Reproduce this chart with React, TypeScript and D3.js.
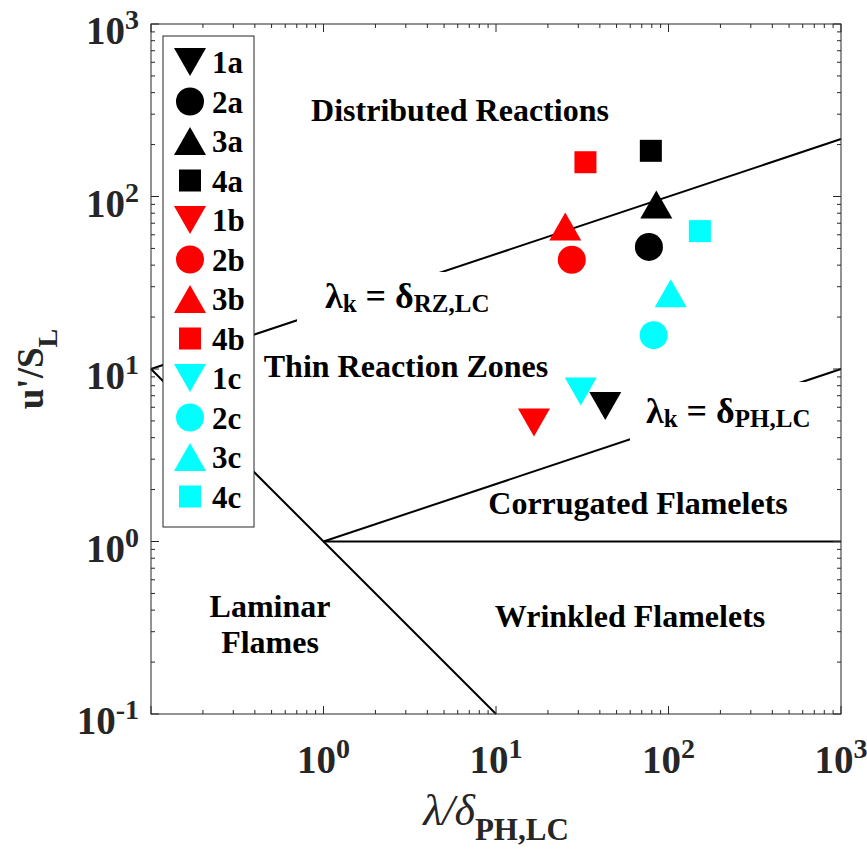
import React from "react";
import * as d3 from "d3";

// cases
const caseNames = ["1a", "2a", "3a", "4a", "1b", "2b", "3b", "4b", "1c", "2c", "3c", "4c"];
const lengthRatio = [43, 77, 85, 79, 16.6, 27.5, 25.2, 33, 31, 82, 103, 152];
const velocityRatio = [6.1, 51, 90, 184, 4.9, 43, 67, 158, 7.4, 15.7, 27.5, 63];

// regime boundaries [x, y]
const ka100Line = [[0.1, 10], [1000, 215.4]];
const ka1Line = [[1, 1], [1000, 10]];
const unityLine = [[1, 1], [1000, 1]];
const re1Line = [[0.1, 10], [10, 0.1]];

const xTickExp = [0, 1, 2, 3];
const yTickExp = [-1, 0, 1, 2, 3];

const shapeByNumber: Record<string, string> = { "1": "down", "2": "circle", "3": "up", "4": "square" };
const colorByGroup: Record<string, string> = { a: "#000000", b: "#ff0000", c: "#00ffff" };

const font = "'Liberation Serif', 'Times New Roman', serif";
const axisColor = "#262626";

const x = d3.scaleLog().domain([0.1, 1000]).range([151, 841]);
const y = d3.scaleLog().domain([0.1, 1000]).range([714, 24]);

const isDecade = (v: number) => Math.abs(Math.log10(v) - Math.round(Math.log10(v))) < 1e-9;

const Marker = ({ name, cx, cy }: { name: string; cx: number; cy: number }) => {
  const shape = shapeByNumber[name[0]];
  const fill = colorByGroup[name[1]];
  if (shape === "circle") return <circle cx={cx} cy={cy} r={14} fill={fill} />;
  if (shape === "square") return <rect x={cx - 11} y={cy - 11} width={22} height={22} fill={fill} />;
  const w = 16, h = 14;
  const d =
    shape === "down"
      ? `M${cx - w},${cy - h}L${cx + w},${cy - h}L${cx},${cy + h}Z`
      : `M${cx - w},${cy + h}L${cx + w},${cy + h}L${cx},${cy - h}Z`;
  return <path d={d} fill={fill} />;
};

const line = d3
  .line<number[]>()
  .x((d) => x(d[0]))
  .y((d) => y(d[1]));

export default function App() {
  const ticks = x.ticks();
  const yTicks = y.ticks();

  return (
    <svg width={867} height={849} style={{ display: "block", position: "absolute", left: 0, top: 0 }} fontFamily={font}>
      <rect width={867} height={849} fill="white" />

      {/* boundaries */}
      {[ka100Line, ka1Line, unityLine, re1Line].map((l, i) => (
        <path key={i} d={line(l) as string} fill="none" stroke="black" strokeWidth={2} />
      ))}

      {/* labelled boundaries */}
      <rect x={297} y={272} width={200} height={53} fill="white" />
      <text x={325} y={308} fontWeight="bold" fontSize={36}>
        λ<tspan fontSize={25} dy={4}>k</tspan>
        <tspan dy={-4}> = δ</tspan>
        <tspan fontSize={25} dy={4}>RZ,LC</tspan>
      </text>
      <rect x={630} y={382} width={185} height={60} fill="white" />
      <text x={646} y={423} fontWeight="bold" fontSize={36}>
        λ<tspan fontSize={25} dy={4}>k</tspan>
        <tspan dy={-4}> = δ</tspan>
        <tspan fontSize={25} dy={4}>PH,LC</tspan>
      </text>

      {/* regime names */}
      <g fontWeight="bold" fontSize={32} textAnchor="middle">
        <text x={460} y={121}>Distributed Reactions</text>
        <text x={406} y={377}>Thin Reaction Zones</text>
        <text x={638} y={514}>Corrugated Flamelets</text>
        <text x={630} y={627}>Wrinkled Flamelets</text>
        <text x={270} y={617}>Laminar</text>
        <text x={270} y={653}>Flames</text>
      </g>

      {/* data */}
      {caseNames.map((n, i) => (
        <Marker key={n} name={n} cx={x(lengthRatio[i])} cy={y(velocityRatio[i])} />
      ))}

      {/* frame and ticks */}
      <rect x={151} y={24} width={690} height={690} fill="none" stroke={axisColor} strokeWidth={1} />
      <g stroke={axisColor} strokeWidth={1}>
        {ticks.map((t, i) => {
          const len = isDecade(t) ? 8 : 4;
          const px = x(t);
          return (
            <g key={"x" + i}>
              <line x1={px} x2={px} y1={714} y2={714 - len} />
              <line x1={px} x2={px} y1={24} y2={24 + len} />
            </g>
          );
        })}
        {yTicks.map((t, i) => {
          const len = isDecade(t) ? 8 : 4;
          const py = y(t);
          return (
            <g key={"y" + i}>
              <line x1={151} x2={151 + len} y1={py} y2={py} />
              <line x1={841} x2={841 - len} y1={py} y2={py} />
            </g>
          );
        })}
      </g>

      {/* tick labels */}
      <g fontWeight="bold" fontSize={39} fill={axisColor}>
        {yTickExp.map((e) => (
          <text key={"yl" + e} x={139} y={y(Math.pow(10, e)) + 20} textAnchor="end">
            10<tspan fontSize={28} dy={-15}>{e}</tspan>
          </text>
        ))}
        {xTickExp.map((e) => (
          <text key={"xl" + e} x={x(Math.pow(10, e))} y={773} textAnchor="middle">
            10<tspan fontSize={28} dy={-15}>{e}</tspan>
          </text>
        ))}
      </g>

      {/* axis titles */}
      <text x={496} y={825} textAnchor="middle" fill={axisColor}>
        <tspan fontStyle="italic" fontSize={44}>λ/δ</tspan>
        <tspan fontWeight="bold" fontSize={31} dy={15}>PH,LC</tspan>
      </text>
      <text transform="translate(43,369) rotate(-90)" textAnchor="middle" fontWeight="bold" fontSize={37} fill={axisColor}>
        u'/S<tspan fontSize={28} dy={14}>L</tspan>
      </text>

      {/* legend */}
      <rect x={163} y={36} width={91} height={491} fill="white" stroke={axisColor} strokeWidth={1} />
      {caseNames.map((n, i) => {
        const cy = 62 + i * 39.5;
        return (
          <g key={"lg" + n}>
            <Marker name={n} cx={190} cy={cy} />
            <text x={212} y={cy + 11} fontWeight="bold" fontSize={31}>
              {n}
            </text>
          </g>
        );
      })}
    </svg>
  );
}
